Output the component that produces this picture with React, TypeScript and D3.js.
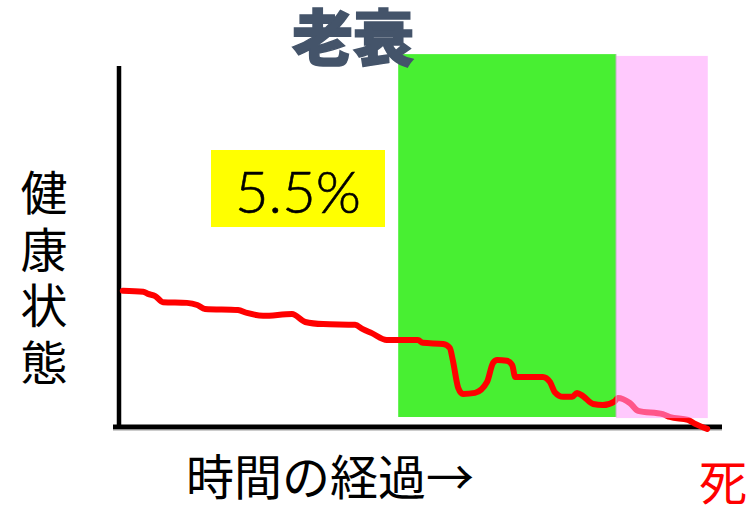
import { useEffect, useRef } from 'react';
import * as d3 from 'd3';

// health over time (time 0-100, health 0-100)
const times = [0.3, 3.7, 4.5, 5.7, 7.0, 11.0, 12.7, 14.0, 19.5, 21.0, 23.7, 28.5, 30.7, 33.7, 39.0, 40.3, 41.8, 44.3, 49.5, 50.3, 53.7, 54.8, 55.3, 56.2, 57.0, 59.0, 61.0, 62.0, 62.7, 64.3, 65.2, 65.7, 70.3, 71.5, 72.3, 73.7, 75.2, 76.0, 77.0, 78.7, 80.3, 82.3, 82.8, 84.8, 86.2, 90.3, 91.5, 94.5, 95.7, 97.7];
const health = [37.6, 37.3, 36.7, 36.1, 34.4, 34.2, 33.6, 32.5, 32.2, 31.4, 30.6, 31.1, 28.9, 28.3, 28.1, 26.9, 25.8, 23.9, 23.9, 23.1, 22.8, 21.7, 18.3, 10.6, 8.9, 9.2, 12.2, 17.5, 18.3, 18.1, 16.9, 13.6, 13.6, 12.2, 9.4, 8.1, 8.1, 9.2, 8.3, 6.1, 5.8, 6.9, 7.8, 6.4, 4.2, 3.3, 2.5, 1.7, 0.6, -0.8];

// shaded phases
const phaseStart = [46.2, 82.5];
const phaseEnd = [82.5, 97.8];
const phaseTop = [103.3, 102.8];
const phaseBottom = [2.5, 2.2];

const title = '老衰';
const rateLabel = '5.5%';
const yLabel = '健康状態';
const xLabel = '時間の経過→';
const endLabel = '死';

const jp = '"Noto Sans CJK JP", "Noto Sans CJK SC", sans-serif';

const App = () => {
  const svgRef = useRef(null);

  useEffect(() => {
    const width = 756;
    const height = 519;

    const svg = d3.select(svgRef.current);
    svg.selectAll('*').remove();
    svg.attr('width', width).attr('height', height);

    const x = d3.scaleLinear().domain([0, 100]).range([121, 721]);
    const y = d3.scaleLinear().domain([0, 100]).range([426, 66]);

    const data = times.map((t, i) => ({ t, h: health[i] }));

    // green phase (under the line)
    svg.append('rect')
      .attr('x', x(phaseStart[0]))
      .attr('y', y(phaseTop[0]))
      .attr('width', x(phaseEnd[0]) - x(phaseStart[0]))
      .attr('height', y(phaseBottom[0]) - y(phaseTop[0]))
      .attr('fill', '#48ef32');

    // axes
    svg.append('line')
      .attr('x1', x(0) - 2).attr('x2', x(0) - 2)
      .attr('y1', y(100)).attr('y2', y(0) + 2)
      .attr('stroke', '#000').attr('stroke-width', 4.5);
    svg.append('line')
      .attr('x1', x(0) - 8).attr('x2', x(100) + 1)
      .attr('y1', y(0) + 1).attr('y2', y(0) + 1)
      .attr('stroke', '#000').attr('stroke-width', 5);
    svg.append('line')
      .attr('x1', x(0) - 8).attr('x2', x(100) + 1)
      .attr('y1', y(0) + 4).attr('y2', y(0) + 4)
      .attr('stroke', '#999').attr('stroke-width', 1);

    const line = d3.line()
      .x(d => x(d.t))
      .y(d => y(d.h))
      .curve(d3.curveMonotoneX);

    svg.append('path')
      .datum(data)
      .attr('d', line)
      .attr('fill', 'none')
      .attr('stroke', '#ff0000')
      .attr('stroke-width', 6)
      .attr('stroke-linejoin', 'round')
      .attr('stroke-linecap', 'round');

    // pink phase (over the line)
    svg.append('rect')
      .attr('x', x(phaseStart[1]))
      .attr('y', y(phaseTop[1]))
      .attr('width', x(phaseEnd[1]) - x(phaseStart[1]))
      .attr('height', y(phaseBottom[1]) - y(phaseTop[1]))
      .attr('fill', '#ff9dfb')
      .attr('fill-opacity', 0.55);
    svg.append('line')
      .attr('x1', x(phaseStart[1])).attr('x2', x(phaseStart[1]))
      .attr('y1', y(phaseTop[0])).attr('y2', y(phaseBottom[0]))
      .attr('stroke', '#b8b8b8').attr('stroke-width', 1);

    // title
    svg.append('text')
      .attr('x', 353).attr('y', 61)
      .attr('text-anchor', 'middle')
      .attr('font-family', jp)
      .attr('font-weight', 900)
      .attr('font-size', 61)
      .attr('fill', '#44546a')
      .attr('stroke', '#44546a')
      .attr('stroke-width', 1.5)
      .text(title);

    // rate box
    svg.append('rect')
      .attr('x', 211).attr('y', 150)
      .attr('width', 174).attr('height', 77)
      .attr('fill', '#ffff00');
    svg.append('text')
      .attr('x', 298).attr('y', 213)
      .attr('text-anchor', 'middle')
      .attr('font-family', 'Lato, sans-serif')
      .attr('font-weight', 300)
      .attr('font-size', 58)
      .attr('stroke', '#000')
      .attr('stroke-width', 0.6)
      .attr('fill', '#000')
      .text(rateLabel);

    // vertical y label
    svg.append('text')
      .attr('x', 44)
      .attr('y', 169)
      .attr('writing-mode', 'vertical-rl')
      .attr('letter-spacing', 9.5)
      .attr('font-family', jp)
      .attr('font-size', 47)
      .attr('fill', '#000')
      .text(yLabel);

    svg.append('text')
      .attr('x', 186).attr('y', 495)
      .attr('font-family', jp)
      .attr('font-size', 48)
      .attr('fill', '#000')
      .text(xLabel);

    svg.append('text')
      .attr('x', 723).attr('y', 500)
      .attr('text-anchor', 'middle')
      .attr('font-family', jp)
      .attr('font-size', 48)
      .attr('fill', '#ff0000')
      .text(endLabel);
  }, []);

  return <svg ref={svgRef} style={{ position: 'absolute', left: 0, top: 0 }}></svg>;
};

export default App;
